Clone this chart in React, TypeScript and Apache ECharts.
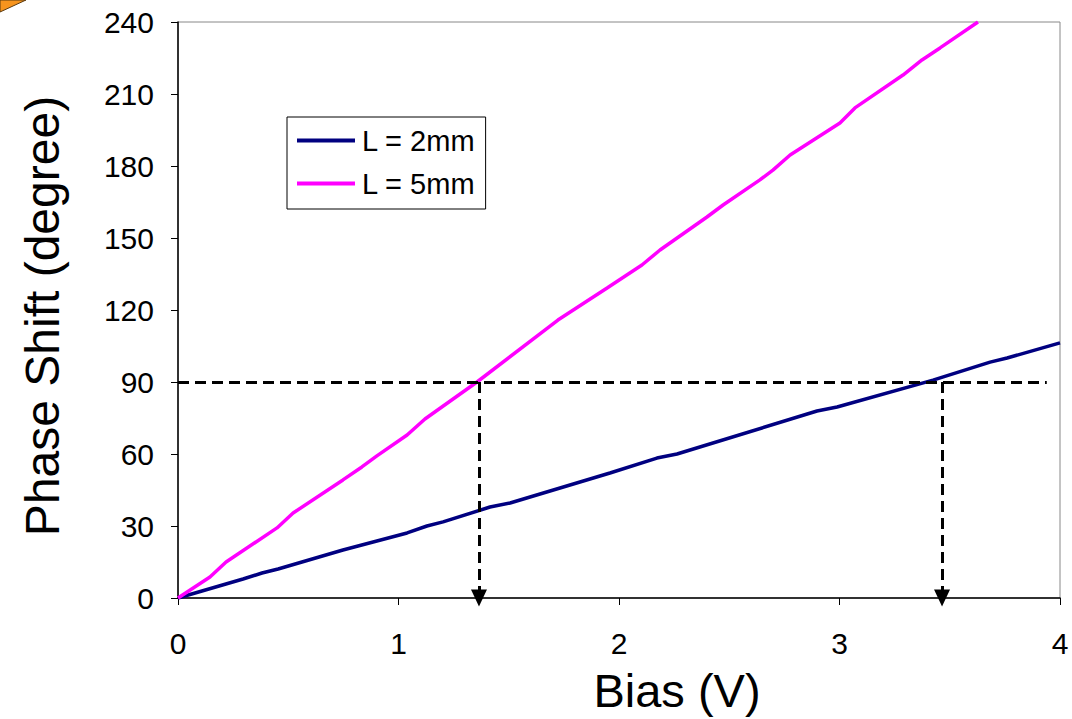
import React, { useEffect, useRef } from "react";
import * as echarts from "echarts";

const biasL2 = [0, 0.295, 0.381, 0.454, 0.748, 1.039, 1.129, 1.202, 1.415, 1.506, 1.959, 2.172, 2.263, 2.898, 2.989, 3.424, 3.683, 3.76, 4.0];
const phaseL2 = [0, 7.9, 10.4, 12.1, 20, 27.1, 30, 31.7, 37.9, 39.6, 52.1, 58.3, 60, 77.9, 79.6, 90.8, 98.3, 100, 106.3];

const biasL5 = [0, 0.145, 0.218, 0.449, 0.522, 0.748, 0.834, 0.902, 1.039, 1.12, 1.356, 1.723, 1.946, 2.104, 2.186, 2.399, 2.472, 2.639, 2.698, 2.776, 3.002, 3.07, 3.288, 3.374, 3.456, 3.628];
const phaseL5 = [0, 8.75, 15, 29.2, 35.4, 49.2, 54.6, 59.2, 67.9, 74.6, 90, 115.8, 129.2, 138.75, 145, 158.75, 163.75, 174.2, 178.3, 184.6, 197.9, 204.2, 217.9, 224.2, 229.2, 240];

const seriesNames = ["L = 2mm", "L = 5mm"];
const guidePhase = 90;
const guideEndBias = 3.94;
const arrowBias = [1.365, 3.465];

const xTicks = { min: 0, max: 4, interval: 1 };
const yTicks = { min: 0, max: 240, interval: 30 };

const FONT = "'Liberation Sans', Arial, sans-serif";

export default function App() {
  const ref = useRef<HTMLDivElement>(null);
  useEffect(() => {
    if (!ref.current) return;
    const chart = echarts.init(ref.current, undefined, { renderer: "svg" });
    const dash = { color: "#000", width: 3, type: [11, 6] as any };
    const markData: any[] = [
      [
        { coord: [0, guidePhase], symbol: "none" },
        { coord: [guideEndBias, guidePhase], symbol: "none" },
      ],
      ...arrowBias.map((b) => [
        { coord: [b, guidePhase], symbol: "none" },
        { coord: [b, 0], symbol: "triangle", symbolSize: [16, 17] },
      ]),
    ];
    chart.setOption({
      animation: false,
      backgroundColor: "#fff",
      textStyle: { fontFamily: FONT },
      grid: {
        left: 178,
        top: 22,
        right: 12,
        bottom: 121,
        show: true,
        borderColor: "#888",
        borderWidth: 1,
        backgroundColor: "transparent",
      },
      legend: {
        orient: "vertical",
        left: 287,
        top: 117,
        padding: [9, 10, 11, 10],
        itemGap: 14,
        itemWidth: 58,
        itemHeight: 4,
        icon: "rect",
        backgroundColor: "#fff",
        borderColor: "#000",
        borderWidth: 1,
        borderRadius: 0,
        textStyle: { fontSize: 29, color: "#000", fontFamily: FONT, padding: [0, 0, 0, 2] },
        data: seriesNames,
      },
      xAxis: {
        type: "value",
        min: xTicks.min,
        max: xTicks.max,
        interval: xTicks.interval,
        axisLine: { lineStyle: { color: "#000", width: 1.5 } },
        axisTick: { show: true, inside: false, length: 7, lineStyle: { color: "#000" } },
        axisLabel: { fontSize: 30, color: "#000", margin: 30, fontFamily: FONT },
        splitLine: { show: false },
      },
      yAxis: {
        type: "value",
        min: yTicks.min,
        max: yTicks.max,
        interval: yTicks.interval,
        axisLine: { show: true, lineStyle: { color: "#000", width: 1.5 } },
        axisTick: { show: true, inside: false, length: 7, lineStyle: { color: "#000" } },
        axisLabel: { fontSize: 30, color: "#000", margin: 24, fontFamily: FONT },
        splitLine: { show: false },
      },
      graphic: [
        {
          type: "text",
          x: 42,
          y: 316,
          rotation: Math.PI / 2,
          style: {
            text: "Phase Shift (degree)",
            fontSize: 48,
            fontFamily: FONT,
            fill: "#000",
            align: "center",
            verticalAlign: "middle",
          },
        },
        {
          type: "text",
          x: 677,
          y: 690,
          style: {
            text: "Bias (V)",
            fontSize: 47,
            fontFamily: FONT,
            fill: "#000",
            align: "center",
            verticalAlign: "middle",
          },
        },
        {
          type: "polygon",
          shape: { points: [[0, 0], [26, 0], [0, 12]] },
          style: { fill: "#F7941D", stroke: "#5a3a10", lineWidth: 1 },
        },
      ],
      series: [
        {
          name: seriesNames[0],
          type: "line",
          data: biasL2.map((x, i) => [x, phaseL2[i]]),
          symbol: "none",
          lineStyle: { color: "#000080", width: 3.5 },
          itemStyle: { color: "#000080" },
          z: 3,
          markLine: {
            silent: true,
            animation: false,
            label: { show: false },
            lineStyle: dash,
            itemStyle: { color: "#000" },
            data: markData,
          },
        },
        {
          name: seriesNames[1],
          type: "line",
          data: biasL5.map((x, i) => [x, phaseL5[i]]),
          symbol: "none",
          lineStyle: { color: "#FF00FF", width: 3.5 },
          itemStyle: { color: "#FF00FF" },
          z: 3,
        },
      ],
    });
    return () => chart.dispose();
  }, []);
  return (
    <div
      ref={ref}
      style={{ position: "fixed", left: 0, top: 0, width: 1072, height: 719 }}
    />
  );
}
